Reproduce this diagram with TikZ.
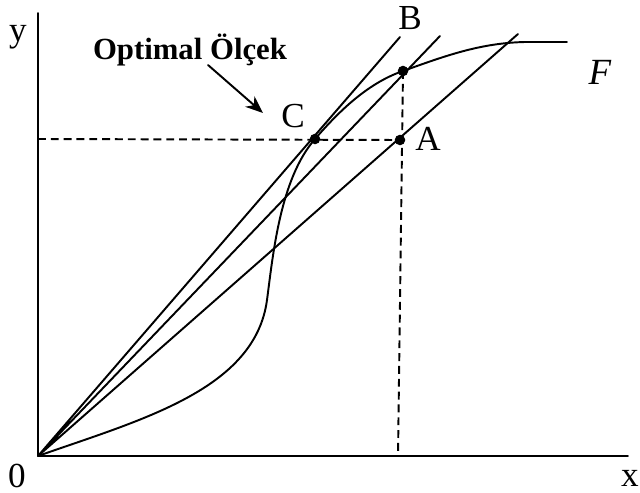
\documentclass[tikz,border=0pt]{standalone}
\usepackage{fontspec}
\setmainfont{Liberation Serif}
\usetikzlibrary{arrows.meta}
\begin{document}
\begin{tikzpicture}[x=0.02cm, y=-0.02cm, line width=1.1pt, line join=round, line cap=round, >={Stealth[length=10pt,width=8pt]},
	lbl/.style={inner sep=0pt, font=\fontsize{20}{22}\selectfont},
	guide/.style={dash pattern=on 4.5pt off 2.8pt, line cap=butt}]
	\useasboundingbox (0,0) rectangle (640,493);
	\path
	(38,456) coordinate (O)
	(38,13) coordinate (Y)
	(628,456) coordinate (X)
	(315,139) coordinate (C)
	(400,140) coordinate (A)
	(403,71) coordinate (D)
	(398,456) coordinate (Dx)
	(38,139) coordinate (Cy)
	(400,37) coordinate (L1)
	(440,36) coordinate (L2)
	(518,34) coordinate (L3)
	(208,65) coordinate (arrS)
	(263,113) coordinate (arrE);
	\draw (Y)--(O)--(X);
	\draw[guide] (Cy)--(A) (D)--(Dx);
	\draw (O)--(L1) (O)--(L2) (O)--(L3);
	% F egrisi
	\draw (O) .. controls (140,420) and (255,390) .. (267,300)
	.. controls (273,255) and (280,179) .. (C)
	.. controls (335,116) and (365,84) .. (D)
	.. controls (445,56) and (480,43) .. (525,42) -- (567,42);
	\foreach \p in {C,A,D}\fill (\p) circle (3pt);
	\node[lbl] (ylab) at (18,37) {y};
	\node[lbl] (olab) at (17,476) {0};
	\node[lbl] (xlab) at (630,478) {x};
	\node[lbl] (Blab) at (410,18) {B};
	\node[lbl] (Clab) at (293,116) {C};
	\node[lbl] (Alab) at (428,139) {A};
	\node[lbl, font=\fontsize{21}{24}\selectfont\itshape] (Flab) at (600,72) {F};
	\node[lbl, font=\fontsize{17.5}{20}\selectfont\bfseries] (opt) at (190,50) {Optimal Ölçek};
	\draw[->] (arrS)--(arrE);
\end{tikzpicture}
\end{document}
